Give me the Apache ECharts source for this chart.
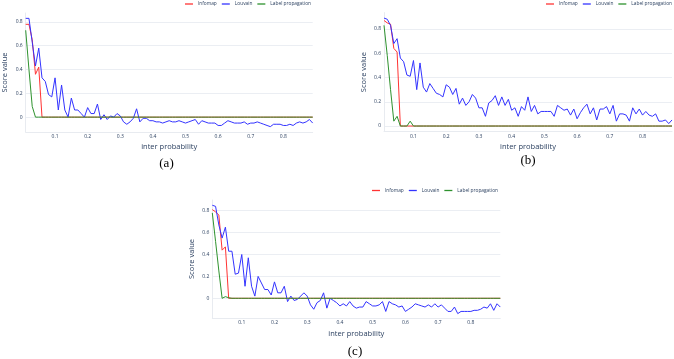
<!DOCTYPE html>
<html>
<head>
<meta charset="utf-8">
<script src="https://cdn.jsdelivr.net/npm/echarts@6/dist/echarts.min.js"></script>
<style>html,body{margin:0;padding:0;background:#fff}#c{width:674px;height:359px}</style>
</head>
<body>
<div id="c"></div>
<script>
const xs = [0.01,0.02,0.03,0.04,0.05,0.06,0.07,0.08,0.09,0.10,0.11,0.12,0.13,0.14,0.15,0.16,0.17,0.18,0.19,0.20,
0.21,0.22,0.23,0.24,0.25,0.26,0.27,0.28,0.29,0.30,0.31,0.32,0.33,0.34,0.35,0.36,0.37,0.38,0.39,0.40,
0.41,0.42,0.43,0.44,0.45,0.46,0.47,0.48,0.49,0.50,0.51,0.52,0.53,0.54,0.55,0.56,0.57,0.58,0.59,0.60,
0.61,0.62,0.63,0.64,0.65,0.66,0.67,0.68,0.69,0.70,0.71,0.72,0.73,0.74,0.75,0.76,0.77,0.78,0.79,0.80,
0.81,0.82,0.83,0.84,0.85,0.86,0.87,0.88,0.89];

const seriesNames = ['Infomap', 'Louvain', 'Label propagation'];
const captions = ['(a)', '(b)', '(c)'];
const xTitle = 'inter probability';
const yTitle = 'Score value';

// (a)
const infomapA = [0.78,0.78,0.65,0.36,0.42,0,0,0,0,0,0,0,0,0,0,0,0,0,0,0,
0,0,0,0,0,0,0,0,0,0,0,0,0,0,0,0,0,0,0,0,
0,0,0,0,0,0,0,0,0,0,0,0,0,0,0,0,0,0,0,0,
0,0,0,0,0,0,0,0,0,0,0,0,0,0,0,0,0,0,0,0,
0,0,0,0,0,0,0,0,0];
const louvainA = [0.83,0.83,0.63,0.43,0.58,0.33,0.30,0.19,0.17,0.33,0.06,0.27,0.06,0.00,0.16,0.06,0.06,0.03,0.00,0.08,
0.03,0.03,0.11,-0.02,0.02,-0.02,0.01,0.00,0.03,0.01,-0.04,-0.06,-0.04,-0.01,0.07,-0.04,-0.01,-0.01,-0.03,-0.03,
-0.04,-0.04,-0.05,-0.04,-0.03,-0.04,-0.04,-0.03,-0.04,-0.05,-0.04,-0.03,-0.02,-0.06,-0.03,-0.04,-0.05,-0.05,-0.05,-0.07,
-0.07,-0.05,-0.03,-0.04,-0.05,-0.05,-0.05,-0.04,-0.06,-0.05,-0.05,-0.04,-0.05,-0.06,-0.07,-0.08,-0.06,-0.06,-0.06,-0.07,
-0.07,-0.06,-0.07,-0.05,-0.04,-0.05,-0.04,-0.02,-0.05];
const labelPropA = [0.73,0.40,0.09,0,0,0,0,0,0,0,0,0,0,0,0,0,0,0,0,0,
0,0,0,0,0,0,0,0,0,0,0,0,0,0,0,0,0,0,0,0,
0,0,0,0,0,0,0,0,0,0,0,0,0,0,0,0,0,0,0,0,
0,0,0,0,0,0,0,0,0,0,0,0,0,0,0,0,0,0,0,0,
0,0,0,0,0,0,0,0,0];

// (b)
const infomapB = [0.87,0.85,0.84,0.64,0.61,0,0,0,0,0,0,0,0,0,0,0,0,0,0,0,
0,0,0,0,0,0,0,0,0,0,0,0,0,0,0,0,0,0,0,0,
0,0,0,0,0,0,0,0,0,0,0,0,0,0,0,0,0,0,0,0,
0,0,0,0,0,0,0,0,0,0,0,0,0,0,0,0,0,0,0,0,
0,0,0,0,0,0,0,0,0];
const louvainB = [0.89,0.88,0.83,0.68,0.72,0.56,0.53,0.42,0.41,0.54,0.30,0.52,0.32,0.28,0.35,0.31,0.27,0.26,0.24,0.34,
0.32,0.26,0.31,0.18,0.23,0.17,0.20,0.26,0.23,0.15,0.15,0.08,0.19,0.21,0.25,0.17,0.24,0.17,0.22,0.13,
0.15,0.08,0.16,0.13,0.24,0.12,0.17,0.10,0.12,0.12,0.12,0.12,0.08,0.17,0.15,0.13,0.14,0.09,0.14,0.06,
0.11,0.15,0.18,0.10,0.15,0.05,0.14,0.14,0.16,0.10,0.17,0.04,0.10,0.10,0.09,0.04,0.15,0.10,0.14,0.09,
0.12,0.09,0.08,0.10,0.04,0.04,0.05,0.02,0.05];
const labelPropB = [0.83,0.58,0.30,0.04,0.08,0,0,0,0.04,0,0,0,0,0,0,0,0,0,0,0,
0,0,0,0,0,0,0,0,0,0,0,0,0,0,0,0,0,0,0,0,
0,0,0,0,0,0,0,0,0,0,0,0,0,0,0,0,0,0,0,0,
0,0,0,0,0,0,0,0,0,0,0,0,0,0,0,0,0,0,0,0,
0,0,0,0,0,0,0,0,0];

// (c)
const infomapC = [0.81,0.79,0.76,0.44,0.47,0,0,0,0,0,0,0,0,0,0,0,0,0,0,0,
0,0,0,0,0,0,0,0,0,0,0,0,0,0,0,0,0,0,0,0,
0,0,0,0,0,0,0,0,0,0,0,0,0,0,0,0,0,0,0,0,
0,0,0,0,0,0,0,0,0,0,0,0,0,0,0,0,0,0,0,0,
0,0,0,0,0,0,0,0,0];
const louvainC = [0.85,0.84,0.67,0.55,0.65,0.43,0.43,0.22,0.23,0.40,0.11,0.37,0.11,0.02,0.20,0.14,0.08,0.08,0.03,0.15,
0.05,0.05,0.11,-0.03,0.02,-0.02,-0.01,0.02,0.05,0.02,-0.06,-0.10,-0.04,-0.02,0.05,-0.09,0.00,-0.02,-0.04,-0.07,
-0.05,-0.07,-0.03,-0.07,-0.09,-0.08,-0.08,-0.03,-0.05,-0.07,-0.07,-0.06,-0.03,-0.12,-0.03,-0.05,-0.06,-0.08,-0.07,-0.12,
-0.10,-0.08,-0.05,-0.06,-0.07,-0.08,-0.06,-0.08,-0.05,-0.08,-0.06,-0.09,-0.12,-0.12,-0.08,-0.14,-0.12,-0.12,-0.12,-0.12,
-0.11,-0.11,-0.10,-0.08,-0.09,-0.05,-0.11,-0.05,-0.08];
const labelPropC = [0.78,0.52,0.25,0,0.015,0.005,0,0,0,0,0,0,0,0,0,0,0,0,0,0,
0,0,0,0,0,0,0,0,0,0,0,0,0,0,0,0,0,0,0,0,
0,0,0,0,0,0,0,0,0,0,0,0,0,0,0,0,0,0,0,0,
0,0,0,0,0,0,0,0,0,0,0,0,0,0,0,0,0,0,0,0,
0,0,0,0,0,0,0,0,0];

const panels = [
  {inf: infomapA, lou: louvainA, lp: labelPropA, ymin: -0.125, ymax: 0.875,
   grid: {left: 25.7, top: 13, width: 287, height: 119}, legend: {right: 363, top: 1.5},
   cap: {x: 166.5, y: 164}, xGap: 11},
  {inf: infomapB, lou: louvainB, lp: labelPropB, ymin: -0.046, ymax: 0.935,
   grid: {left: 384, top: 12.6, width: 288, height: 119}, legend: {right: 2, top: 1.5},
   cap: {x: 528, y: 161}, xGap: 11},
  {inf: infomapC, lou: louvainC, lp: labelPropC, ymin: -0.18, ymax: 0.898,
   grid: {left: 212.3, top: 200, width: 288, height: 118}, legend: {right: 176, top: 188},
   cap: {x: 355, y: 352}, xGap: 12}
];

const colors = {Infomap: '#ff3333', Louvain: '#3333ff', 'Label propagation': '#2e922e'};
const tickColor = '#2a3f5f';
const font = 'Open Sans';

const option = {
  animation: false,
  backgroundColor: '#ffffff',
  grid: [], xAxis: [], yAxis: [], series: [], legend: [], graphic: []
};

panels.forEach((p, i) => {
  option.grid.push(Object.assign({containLabel: false}, p.grid));
  option.xAxis.push({
    type: 'value', gridIndex: i, min: 0.01, max: 0.89, minInterval: 0.1, maxInterval: 0.1,
    name: xTitle, nameLocation: 'middle', nameGap: p.xGap, nameMoveOverlap: false,
    nameTextStyle: {fontFamily: font, fontSize: 7.5, color: tickColor},
    axisLine: {show: true, onZero: false, lineStyle: {color: '#e8ebf0', width: 1}},
    axisTick: {show: false},
    splitLine: {show: false},
    axisLabel: {fontFamily: font, fontSize: 5, color: tickColor, margin: 2.5,
      showMinLabel: false, showMaxLabel: false}
  });
  option.yAxis.push({
    type: 'value', gridIndex: i, min: p.ymin, max: p.ymax, minInterval: 0.2, maxInterval: 0.2,
    name: yTitle, nameLocation: 'middle', nameGap: 16.5, nameMoveOverlap: false,
    nameTextStyle: {fontFamily: font, fontSize: 7.5, color: tickColor},
    axisLine: {show: true, onZero: false, lineStyle: {color: '#e8ebf0', width: 1}},
    axisTick: {show: false},
    splitLine: {show: true, showMinLine: false, showMaxLine: false, lineStyle: {color: '#ebeef3', width: 1}},
    axisLabel: {fontFamily: font, fontSize: 5, color: tickColor, margin: 3,
      showMinLabel: false, showMaxLabel: false}
  });
  const vals = [p.inf, p.lou, p.lp];
  seriesNames.forEach((nm, k) => {
    option.series.push({
      type: 'line', name: nm, xAxisIndex: i, yAxisIndex: i,
      data: xs.map((x, j) => [x, vals[k][j]]),
      symbol: 'none', color: colors[nm],
      lineStyle: {width: 1, color: colors[nm]}, z: 2 + k
    });
  });
  option.legend.push({
    data: seriesNames, right: p.legend.right, top: p.legend.top, width: 200, padding: 0,
    orient: 'horizontal', itemGap: 5, itemWidth: 8, itemHeight: 1.3, icon: 'rect',
    textStyle: {fontFamily: font, fontSize: 4.8, color: tickColor}
  });
  option.graphic.push({
    type: 'text', x: p.cap.x, y: p.cap.y,
    style: {text: captions[i], fontFamily: 'Liberation Serif', fontSize: 13, fill: '#000',
      align: 'center', verticalAlign: 'middle'}
  });
});

const chart = echarts.init(document.getElementById('c'), null, {renderer: 'canvas'});
chart.setOption(option);
</script>
</body>
</html>
